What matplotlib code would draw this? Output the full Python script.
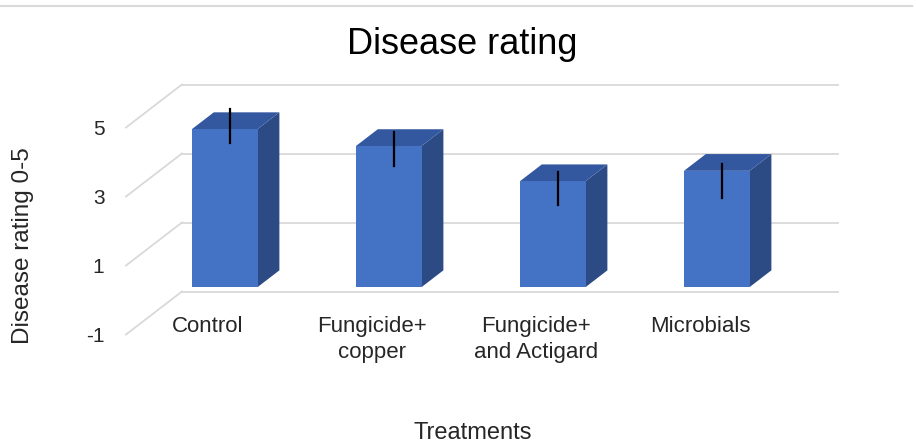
import numpy as np
import matplotlib.pyplot as plt
from matplotlib.patches import Polygon, Rectangle
from matplotlib.lines import Line2D

plt.rcParams['font.family'] = ['Liberation Sans', 'DejaVu Sans']

# data
treatments = ["Control", "Fungicide+\ncopper", "Fungicide+\nand Actigard", "Microbials"]
rating = [4.58, 4.09, 3.07, 3.37]
err_low = [4.05, 3.39, 2.26, 2.46]
err_high = [5.04, 4.37, 3.21, 3.44]
yticks = [-1, 1, 3, 5]

# fake 3d: how far the back wall sits from the front plane (data units)
DX = 0.341
DY = 1.246
bar_front = 0.30   # depth of bar front face (0 = front, 1 = back wall)
bar_depth = 0.39
err_depth = 0.40
bar_w = 0.40

c_front = '#4472C4'
c_top = '#3358A0'
c_side = '#2C4A84'
c_grid = '#d9d9d9'
c_text = '#262626'

fig = plt.figure(figsize=(9.16, 4.45), dpi=100)
ax = fig.add_axes([126 / 916, 1 - 334.5 / 445, 656 / 916, 207 / 445])
ax.set_xlim(-0.5, len(treatments) - 0.5)
ax.set_ylim(-1, 5)
for s in ax.spines.values():
    s.set_visible(False)
ax.set_xticks([])
ax.set_yticks(yticks)
ax.set_yticklabels([str(t) for t in yticks], fontsize=15, color=c_text)
ax.tick_params(axis='y', length=0, pad=15.5)

# back wall gridlines + left wall diagonals
x_left = -0.5
x_right = len(treatments) - 0.5
for t in yticks:
    ax.add_line(Line2D([x_left + DX, x_right + DX], [t + DY, t + DY],
                       color=c_grid, lw=1.3, clip_on=False, zorder=1))
    ax.add_line(Line2D([x_left, x_left + DX], [t, t + DY],
                       color=c_grid, lw=1.3, clip_on=False, zorder=1))

# bars
for i, v in enumerate(rating):
    x0 = i - bar_w / 2 + bar_front * DX
    x1 = i + bar_w / 2 + bar_front * DX
    y0 = bar_front * DY
    y1 = v + bar_front * DY
    ox = bar_depth * DX
    oy = bar_depth * DY
    side = Polygon([[x1, y0], [x1 + ox, y0 + oy], [x1 + ox, y1 + oy], [x1, y1]],
                   closed=True, facecolor=c_side, edgecolor='none', clip_on=False, zorder=2)
    top = Polygon([[x0, y1], [x1, y1], [x1 + ox, y1 + oy], [x0 + ox, y1 + oy]],
                  closed=True, facecolor=c_top, edgecolor='none', clip_on=False, zorder=2)
    front = Rectangle((x0, y0), x1 - x0, y1 - y0, facecolor=c_front,
                      edgecolor='none', clip_on=False, zorder=3)
    ax.add_patch(side)
    ax.add_patch(top)
    ax.add_patch(front)

    # error line (drawn by hand in the original)
    ex = i + err_depth * DX
    ax.add_line(Line2D([ex, ex], [err_low[i] + err_depth * DY, err_high[i] + err_depth * DY],
                       color='black', lw=1.6, clip_on=False, zorder=4))

# category labels sit on the front plane
for i, name in enumerate(treatments):
    ax.text(i, -0.45, name, ha='center', va='top', fontsize=16,
            color=c_text, linespacing=1.35, clip_on=False)

fig.text(462 / 916, 1 - 54 / 445, "Disease rating", ha='center', va='baseline',
         fontsize=26, color='black')
fig.text(473 / 916, 1 - 439 / 445, "Treatments", ha='center', va='baseline',
         fontsize=17, color=c_text)
fig.text(23 / 916, 1 - 246 / 445, "Disease rating 0-5", ha='center', va='center',
         rotation=90, fontsize=17.5, color=c_text)

# thin border line at the top of the picture
fig.add_artist(Line2D([0, 0.996], [1 - 6 / 445, 1 - 6 / 445], color=c_grid, lw=1.5))

fig.savefig('out.png', dpi=100)
